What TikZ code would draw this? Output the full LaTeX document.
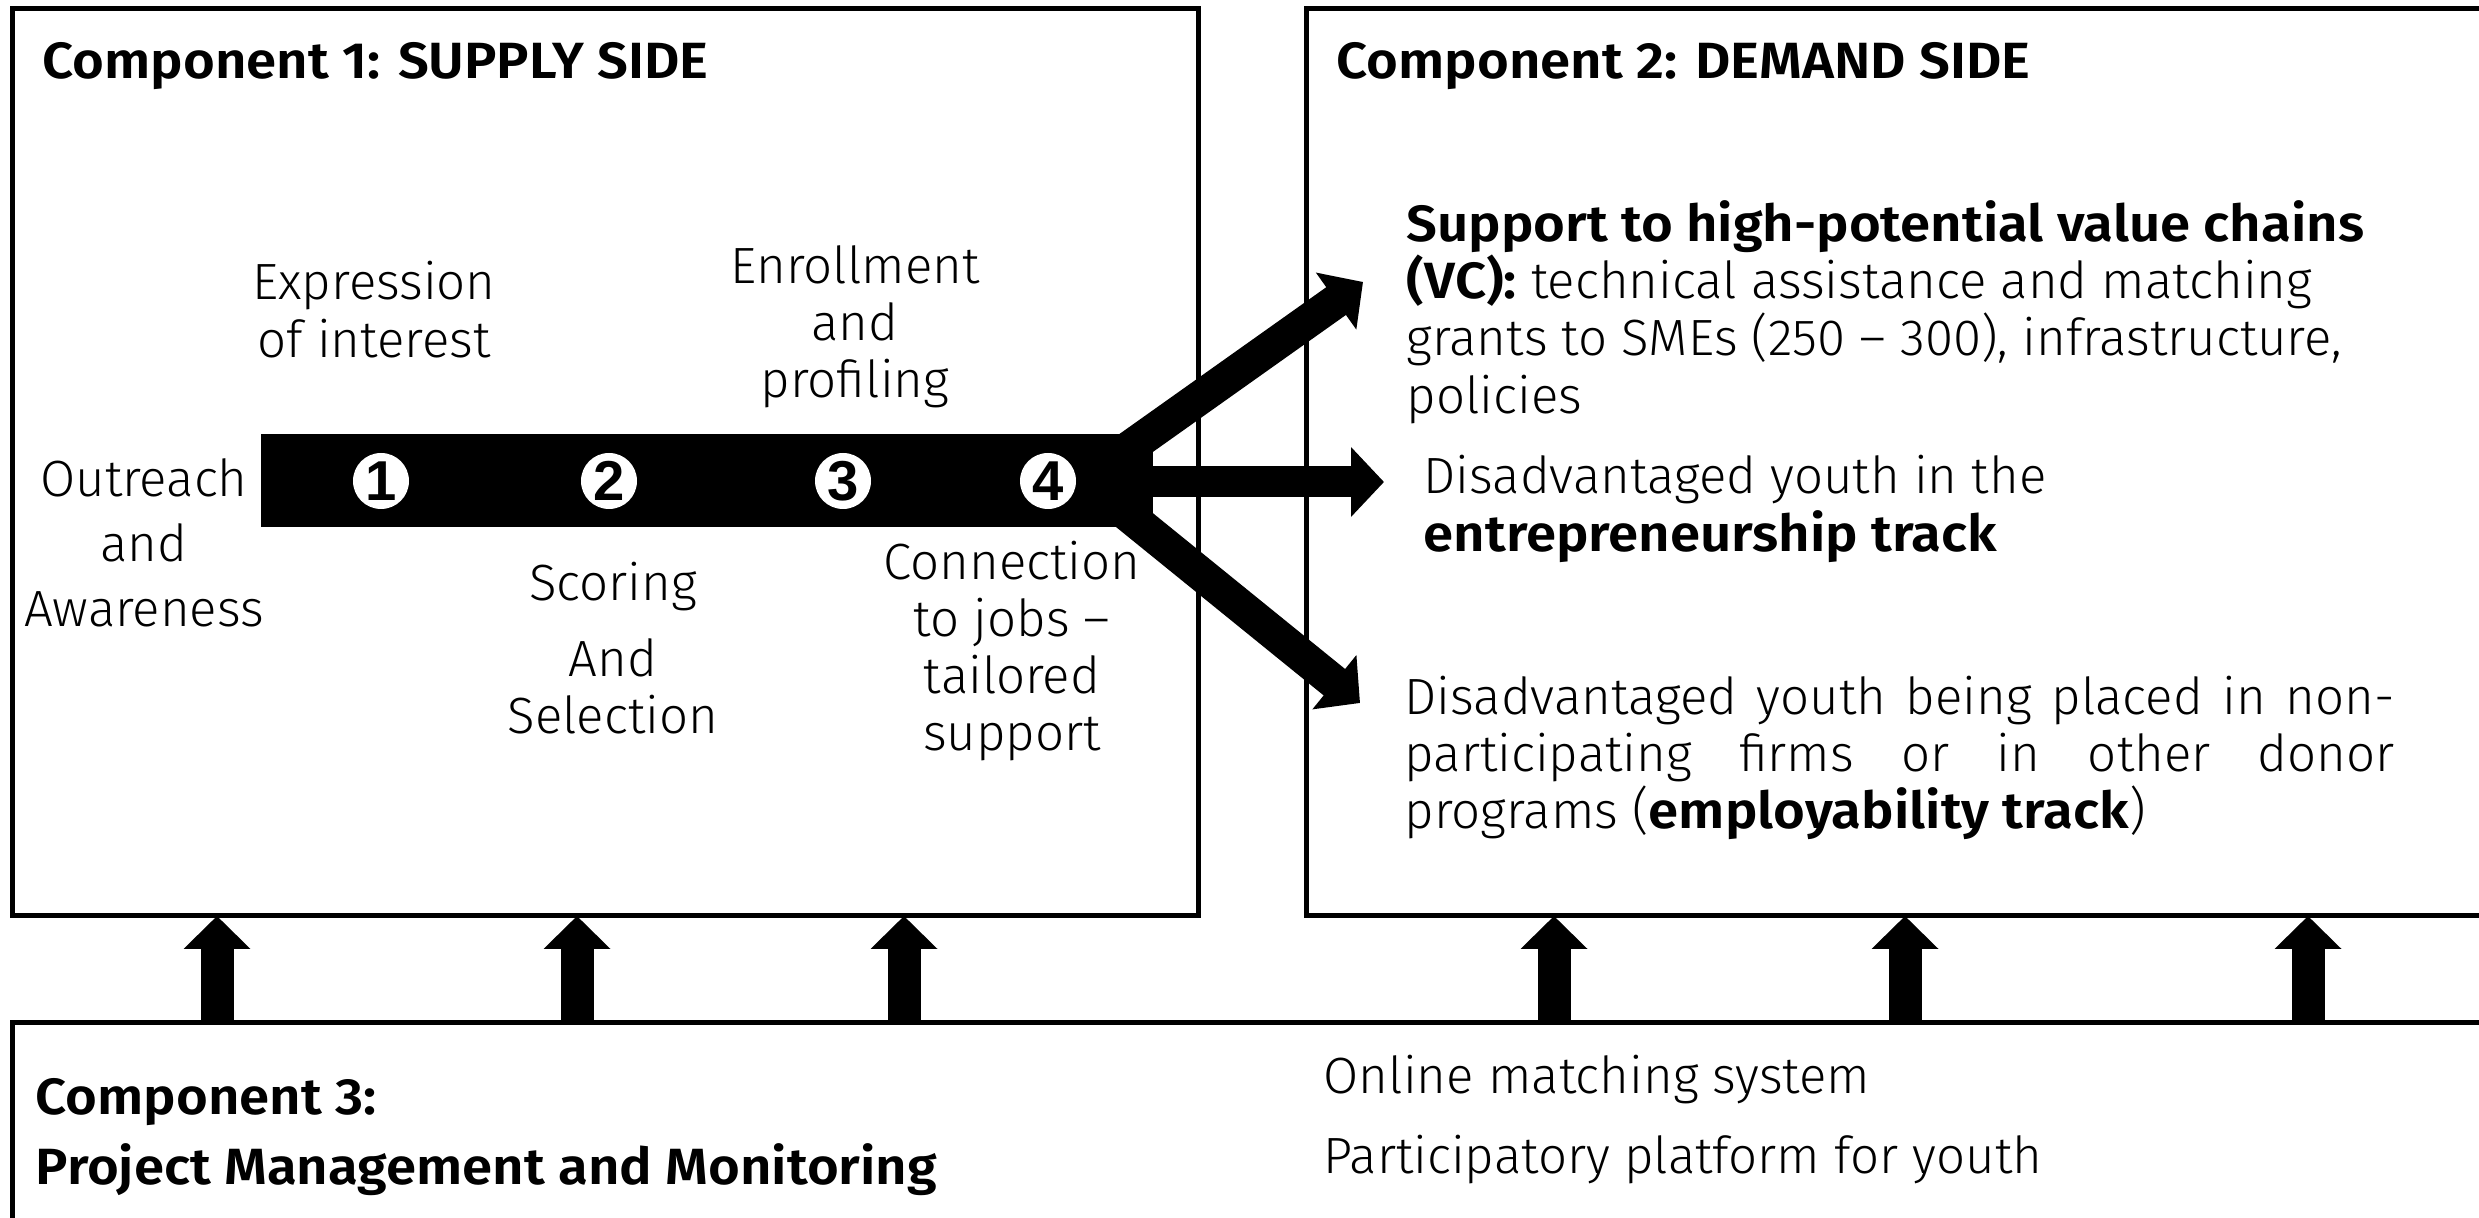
\documentclass[tikz,border=0pt]{standalone}
\usepackage{fontspec}
\setmainfont{Fira Sans Light}[BoldFont={Fira Sans SemiBold}, BoldFeatures={FakeStretch=1.07}]
\newfontfamily\numfont{Liberation Sans}
\usetikzlibrary{arrows.meta}

\tikzset{
  compbox/.style={draw, line width=0.05cm, inner sep=0pt, anchor=north west},
  heading/.style={font=\fontsize{14.5}{16.3}\selectfont\bfseries, anchor=west, inner sep=0pt},
  stage/.style={align=center, inner sep=0pt},
  outcome/.style={align=left, anchor=west, inner sep=0pt},
  stepnum/.style={circle, fill=white, inner sep=0pt, minimum size=0.56cm, font=\numfont\bfseries\fontsize{16}{16}\selectfont},
  uparrow/.style={line width=0.33cm, -{Triangle[width=0.65cm,length=0.33cm]}, shorten >=-0.025cm},
  forkarrow/.style={line width=0.34cm, -{Triangle[width=0.68cm,length=0.33cm]}}
}

\begin{document}
\begin{tikzpicture}[font=\fontsize{14.5}{16.3}\selectfont]
    \useasboundingbox (0,0) rectangle (24.79,12.18);

    % COMPONENT BOXES
    \node[compbox, minimum width=11.86cm, minimum height=9.07cm] (supply) at (0.095,12.115) {};
    \node[compbox, minimum width=12.3cm, minimum height=9.07cm] (demand) at (13.04,12.115) {};
    \node[compbox, minimum width=25.3cm, minimum height=2.5cm] (mgmt) at (0.095,1.975) {};

    % TITLES
    \node[heading] (supplytitle) at (0.42,11.52) {Component 1: SUPPLY SIDE};
    \node[heading] (demandtitle) at (13.36,11.52) {Component 2: DEMAND SIDE};
    \node[heading, align=left] (mgmttitle) at (0.35,0.81) {Component 3:\\[0.12cm] Project Management and Monitoring};

    % PIPELINE BAR
    \node[fill=black, inner sep=0pt, minimum width=8.92cm, minimum height=0.93cm] (bar) at (7.07,7.375) {};
    \node[stepnum] (n1) at (3.81,7.37) {1};
    \node[stepnum] (n2) at (6.09,7.37) {2};
    \node[stepnum] (n3) at (8.43,7.37) {3};
    \node[stepnum] (n4) at (10.48,7.37) {4};

    % STAGES
    \node[stage, font=\fontsize{14.5}{18.5}\selectfont] (outreach) at (1.44,6.75) {Outreach\\and\\Awareness};
    \node[stage] (interest) at (3.74,9.085) {Expression\\of interest};
    \node[stage] (enroll) at (8.55,8.91) {Enrollment\\and\\profiling};
    \node[stage] (scoring) at (6.13,5.70) {Scoring\\[0.19cm]And\\Selection};
    \node[stage] (connect) at (10.12,5.67) {Connection\\to jobs –\\tailored\\support};

    % DEMAND SIDE OUTCOMES
    \node[outcome] (vc) at (14.06,9.06) {\textbf{Support to high-potential value chains}\\\textbf{(VC):} technical assistance and matching\\grants to SMEs (250 – 300), infrastructure,\\policies};
    \node[outcome] (entre) at (14.23,7.09) {Disadvantaged youth in the\\\textbf{entrepreneurship track}};
    \node[outcome] (employ) at (14.04,4.60) {\makebox[9.9cm][s]{Disadvantaged youth being placed in non-}\\\makebox[9.9cm][s]{participating firms or in other donor}\\programs (\textbf{employability track})};

    % MANAGEMENT TOOLS
    \node[outcome] (online) at (13.23,1.38) {Online matching system};
    \node[outcome] (platform) at (13.23,0.58) {Participatory platform for youth};

    % FORK OF THE BAR
    \coordinate (forkup) at (10.84,7.38);
    \coordinate (forkmid) at (11.00,7.36);
    \coordinate (forklow) at (10.85,7.38);
    \coordinate (tipvc) at (13.63,9.36);
    \coordinate (tipentre) at (13.84,7.36);
    \coordinate (tipemploy) at (13.60,5.15);
    \draw[forkarrow] (forkup) -- (tipvc);
    \draw[forkarrow, line width=0.31cm] (forkmid) -- (tipentre);
    \draw[forkarrow] (forklow) -- (tipemploy);

    % SUPPORT FROM COMPONENT 3
    \foreach \x in {2.17,5.77,9.04} {
        \draw[uparrow] (\x,0 |- mgmt.north) -- (\x,0 |- supply.south);
    }
    \foreach \x in {15.54,19.05,23.08} {
        \draw[uparrow] (\x,0 |- mgmt.north) -- (\x,0 |- demand.south);
    }
\end{tikzpicture}
\end{document}
